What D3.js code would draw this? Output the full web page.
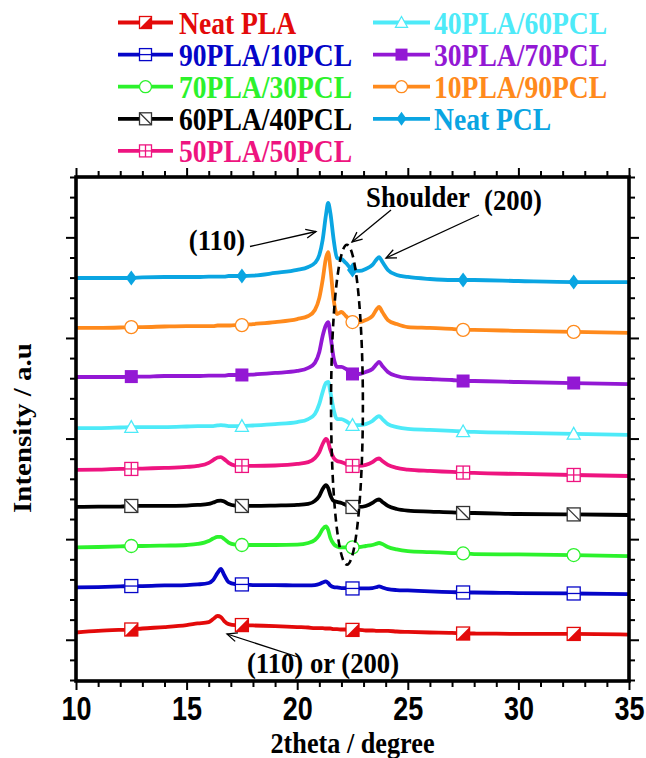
<!DOCTYPE html>
<html><head><meta charset="utf-8">
<script src="https://cdn.jsdelivr.net/npm/d3@7"></script>
<style>html,body{margin:0;padding:0;background:#fff}svg{display:block}</style>
</head><body><svg id="c" width="646" height="758"></svg>
<script>
// ---------- data ----------
const twoTheta = [10,11,12,12.5,13,14,15,15.5,16,16.2,16.4,16.55,16.7,16.9,17.2,17.5,18,19,20,20.5,20.8,21.0,21.15,21.3,21.4,21.5,21.65,21.8,22.0,22.2,22.5,22.8,23.1,23.4,23.6,23.7,23.85,24.1,24.5,25,26,27,27.5,28,30,32.5,35];

const seriesNames = ["Neat PLA","90PLA/10PCL","70PLA/30PCL","60PLA/40PCL","50PLA/50PCL","40PLA/60PCL","30PLA/70PCL","10PLA/90PCL","Neat PCL"];
const seriesColors = ["#e30a0a","#0505c8","#2cf22c","#000000","#ee1480","#4deaf8","#9318d4","#ff8a1c","#0aa5e2"];
const seriesSymbols = ["halfSquare","squareH","circle","squareDiag","squareCross","triangle","squareFill","circle","diamond"];

const neatPLA = [2.36,2.44,2.49,2.51,2.56,2.63,2.73,2.81,2.88,3.03,3.18,3.13,2.93,2.78,2.73,2.73,2.71,2.68,2.63,2.61,2.58,2.58,2.58,2.56,2.56,2.56,2.53,2.53,2.51,2.51,2.49,2.49,2.46,2.46,2.44,2.44,2.44,2.44,2.41,2.39,2.36,2.34,2.31,2.31,2.29,2.29,2.26];
const pla90pcl10 = [4.60,4.62,4.65,4.67,4.67,4.70,4.72,4.75,4.82,4.97,5.32,5.52,5.22,4.87,4.77,4.75,4.72,4.72,4.70,4.70,4.72,4.77,4.85,4.90,4.82,4.70,4.62,4.60,4.57,4.57,4.55,4.55,4.55,4.57,4.62,4.65,4.60,4.52,4.47,4.45,4.40,4.37,4.35,4.35,4.32,4.30,4.27];
const pla70pcl30 = [6.59,6.61,6.64,6.66,6.66,6.68,6.71,6.76,6.91,7.03,7.11,7.11,7.01,6.83,6.73,6.71,6.71,6.71,6.73,6.81,6.96,7.21,7.50,7.63,7.46,7.06,6.76,6.64,6.59,6.59,6.59,6.61,6.66,6.71,6.78,6.81,6.76,6.61,6.49,6.41,6.36,6.31,6.29,6.26,6.24,6.21,6.16];
const pla60pcl40 = [8.60,8.62,8.62,8.65,8.65,8.65,8.67,8.70,8.75,8.82,8.90,8.92,8.87,8.75,8.67,8.65,8.65,8.67,8.70,8.75,8.90,9.15,9.49,9.69,9.54,9.19,8.90,8.85,8.80,8.70,8.60,8.60,8.65,8.80,8.95,8.97,8.85,8.65,8.50,8.42,8.37,8.33,8.30,8.30,8.25,8.23,8.20];
const pla50pcl50 = [10.44,10.46,10.49,10.49,10.51,10.54,10.59,10.64,10.79,10.93,11.06,11.08,10.98,10.79,10.66,10.64,10.64,10.66,10.74,10.83,11.03,11.33,11.73,11.98,11.83,11.43,11.03,10.88,10.83,10.74,10.64,10.64,10.69,10.83,10.98,11.01,10.88,10.69,10.54,10.46,10.39,10.34,10.31,10.29,10.24,10.19,10.14];
const pla40pcl60 = [12.52,12.52,12.55,12.57,12.57,12.57,12.60,12.62,12.62,12.62,12.65,12.67,12.65,12.62,12.62,12.62,12.65,12.72,12.82,12.97,13.22,13.72,14.31,14.76,14.81,14.31,13.42,12.97,12.97,12.87,12.67,12.67,12.72,12.87,13.07,13.12,12.97,12.72,12.57,12.48,12.43,12.38,12.35,12.33,12.28,12.23,12.18];
const pla30pcl70 = [15.06,15.06,15.06,15.08,15.08,15.11,15.11,15.11,15.13,15.13,15.13,15.13,15.13,15.16,15.16,15.16,15.18,15.26,15.36,15.51,15.76,16.30,17.10,17.64,17.79,17.15,16.00,15.56,15.56,15.46,15.21,15.21,15.31,15.46,15.71,15.81,15.61,15.31,15.11,15.01,14.96,14.91,14.86,14.86,14.81,14.76,14.71];
const pla10pcl90 = [17.50,17.50,17.52,17.54,17.54,17.57,17.59,17.59,17.59,17.59,17.62,17.62,17.62,17.62,17.64,17.64,17.69,17.79,17.94,18.09,18.39,18.99,19.88,20.97,21.27,20.48,18.89,18.19,18.29,18.09,17.79,17.79,17.89,18.09,18.44,18.54,18.29,17.89,17.69,17.54,17.50,17.45,17.40,17.40,17.35,17.30,17.25];
const neatPCL = [19.98,19.98,19.98,19.98,20.01,20.03,20.03,20.03,20.05,20.05,20.05,20.05,20.05,20.08,20.08,20.08,20.10,20.23,20.38,20.53,20.73,21.12,21.87,23.11,23.71,23.21,21.87,20.97,20.92,20.73,20.38,20.33,20.43,20.63,20.92,21.02,20.78,20.38,20.13,20.03,19.93,19.88,19.88,19.88,19.83,19.78,19.78];

const seriesValues = [neatPLA,pla90pcl10,pla70pcl30,pla60pcl40,pla50pcl50,pla40pcl60,pla30pcl70,pla10pcl90,neatPCL];
const markerPositions = [12.5,17.5,22.5,27.5,32.5];

const xTicks = [10,15,20,25,30,35];
const xMinorTicks = [11,12,13,14,16,17,18,19,21,22,23,24,26,27,28,29,31,32,33,34];
const yMajorTicks = [2,7,12,17,22];
const yMinorTicks = [0,1,3,4,5,6,8,9,10,11,13,14,15,16,18,19,20,21,23,24,25];

const ellipseCenter = [22.25, 13.68];
const ellipseRadii = [0.72, 7.95];

// ---------- layout ----------
const svg = d3.select("#c");
const L = 76, R = 629, T = 177, B = 681;
const x = d3.scaleLinear().domain([10,35]).range([L,R]);
const y = d3.scaleLinear().domain([0,25]).range([680,177]);
const SERIF = "'Liberation Serif','Times New Roman',serif";
const SANS = "'Liberation Sans',Arial,sans-serif";

function sText(parent, str, px, py, size, family, anchor, sx, fill, rot) {
  return parent.append("text")
    .attr("transform", `translate(${px},${py})` + (rot ? ` rotate(${rot})` : "") + ` scale(${rot ? 1 : sx},${rot ? sx : 1})`)
    .attr("text-anchor", anchor)
    .style("font-family", family).style("font-weight", "bold")
    .style("font-size", size + "px").attr("fill", fill || "#000")
    .text(str);
}

function drawMarker(g, sym, color, s) {
  const h = s / 2;
  if (sym === "halfSquare") {
    g.append("rect").attr("x",-h).attr("y",-h).attr("width",s).attr("height",s).attr("fill","#fff");
    g.append("path").attr("d",`M${h},${-h}L${h},${h}L${-h},${h}Z`).attr("fill",color);
    g.append("rect").attr("x",-h).attr("y",-h).attr("width",s).attr("height",s).attr("fill","none").attr("stroke",color).attr("stroke-width",1.3);
  } else if (sym === "squareH") {
    g.append("rect").attr("x",-h).attr("y",-h).attr("width",s).attr("height",s).attr("fill","#fff").attr("stroke",color).attr("stroke-width",1.3);
    g.append("line").attr("x1",-h).attr("x2",h).attr("y1",0).attr("y2",0).attr("stroke",color).attr("stroke-width",1.3);
  } else if (sym === "circle") {
    g.append("circle").attr("r",h).attr("fill","#fff").attr("stroke",color).attr("stroke-width",1.3);
  } else if (sym === "squareDiag") {
    g.append("rect").attr("x",-h).attr("y",-h).attr("width",s).attr("height",s).attr("fill","#fff").attr("stroke","#333").attr("stroke-width",1.3);
    g.append("line").attr("x1",-h).attr("y1",-h).attr("x2",h).attr("y2",h).attr("stroke","#333").attr("stroke-width",1.3);
  } else if (sym === "squareCross") {
    g.append("rect").attr("x",-h).attr("y",-h).attr("width",s).attr("height",s).attr("fill","#fff").attr("stroke",color).attr("stroke-width",1.3);
    g.append("line").attr("x1",-h).attr("x2",h).attr("y1",0).attr("y2",0).attr("stroke",color).attr("stroke-width",1.3);
    g.append("line").attr("y1",-h).attr("y2",h).attr("x1",0).attr("x2",0).attr("stroke",color).attr("stroke-width",1.3);
  } else if (sym === "triangle") {
    g.append("path").attr("d",`M0,${-h}L${h},${h*0.8}L${-h},${h*0.8}Z`).attr("fill","#fff").attr("stroke",color).attr("stroke-width",1.3);
  } else if (sym === "squareFill") {
    g.append("rect").attr("x",-h).attr("y",-h).attr("width",s).attr("height",s).attr("fill",color);
  } else if (sym === "diamond") {
    g.append("path").attr("d",`M0,${-h-1}L${h-1},0L0,${h+1}L${-h+1},0Z`).attr("fill",color);
  }
}

// ---------- series ----------
const line = d3.line().x((d,i) => x(twoTheta[i])).y(d => y(d)).curve(d3.curveMonotoneX);
const plot = svg.append("g");
seriesValues.forEach((vals, k) => {
  plot.append("path").attr("d", line(vals)).attr("fill","none")
    .attr("stroke", seriesColors[k]).attr("stroke-width", 3.8).attr("stroke-linejoin","round");
});
seriesValues.forEach((vals, k) => {
  markerPositions.forEach(m => {
    const i = twoTheta.indexOf(m);
    const g = plot.append("g").attr("transform", `translate(${x(m)},${y(vals[i])})`);
    drawMarker(g, seriesSymbols[k], seriesColors[k], 13);
  });
});

// ---------- dashed ellipse ----------
svg.append("ellipse")
  .attr("cx", x(ellipseCenter[0])).attr("cy", y(ellipseCenter[1]))
  .attr("rx", x(ellipseCenter[0] + ellipseRadii[0]) - x(ellipseCenter[0]))
  .attr("ry", y(ellipseCenter[1] - ellipseRadii[1]) - y(ellipseCenter[1]))
  .attr("fill","none").attr("stroke","#000").attr("stroke-width",2.6).attr("stroke-dasharray","8,5");

// ---------- axes ----------
function styleAxis(g) {
  g.select(".domain").remove();
  g.selectAll(".tick line").attr("stroke","#000").attr("stroke-width",2);
}
svg.append("g").attr("transform",`translate(0,${B})`).call(d3.axisBottom(x).tickValues(xMinorTicks).tickSize(6).tickFormat("")).call(styleAxis);
const xb = svg.append("g").attr("transform",`translate(0,${B})`).call(d3.axisBottom(x).tickValues(xTicks).tickSize(9).tickPadding(4)).call(styleAxis);
xb.selectAll(".tick text").attr("y", null).attr("dy", null)
  .attr("transform","translate(0,39) scale(0.9,1.08)")
  .style("font-family", SANS).style("font-weight","bold").style("font-size","30px").attr("fill","#000");
svg.append("g").attr("transform",`translate(0,${T})`).call(d3.axisTop(x).tickValues(xMinorTicks).tickSize(6).tickFormat("")).call(styleAxis);
svg.append("g").attr("transform",`translate(0,${T})`).call(d3.axisTop(x).tickValues(xTicks).tickSize(9).tickFormat("")).call(styleAxis);
svg.append("g").attr("transform",`translate(${L},0)`).call(d3.axisLeft(y).tickValues(yMinorTicks).tickSize(6).tickFormat("")).call(styleAxis);
svg.append("g").attr("transform",`translate(${L},0)`).call(d3.axisLeft(y).tickValues(yMajorTicks).tickSize(10).tickFormat("")).call(styleAxis);
svg.append("g").attr("transform",`translate(${R},0)`).call(d3.axisRight(y).tickValues(yMinorTicks).tickSize(6).tickFormat("")).call(styleAxis);
svg.append("g").attr("transform",`translate(${R},0)`).call(d3.axisRight(y).tickValues(yMajorTicks).tickSize(10).tickFormat("")).call(styleAxis);

svg.append("rect").attr("x",L).attr("y",T).attr("width",R-L).attr("height",B-T)
  .attr("fill","none").attr("stroke","#000").attr("stroke-width",3.6);

// axis titles
sText(svg, "2theta / degree", (L+R)/2, 753, 28.5, SERIF, "middle", 0.92);
sText(svg, "Intensity / a.u", 31, 428, 29, SERIF, "middle", 0.89, "#000", -90);

// ---------- annotations ----------
function arrow(x1, y1, x2, y2) {
  const g = svg.append("g").attr("stroke","#000").attr("stroke-width",1.3).attr("fill","none");
  g.append("line").attr("x1",x1).attr("y1",y1).attr("x2",x2).attr("y2",y2);
  const a = Math.atan2(y2-y1, x2-x1), len = 11, sp = 0.42;
  g.append("path").attr("d",
    `M${x2 - len*Math.cos(a-sp)},${y2 - len*Math.sin(a-sp)}L${x2},${y2}L${x2 - len*Math.cos(a+sp)},${y2 - len*Math.sin(a+sp)}`);
}
sText(svg, "Shoulder", 418, 207, 30, SERIF, "middle", 0.89);
sText(svg, "(200)", 513, 210, 30, SERIF, "middle", 0.89);
sText(svg, "(110)", 217, 250, 30, SERIF, "middle", 0.89);
sText(svg, "(110) or (200)", 323, 673, 30, SERIF, "middle", 0.89);
arrow(250, 246.5, 316, 231.5);
arrow(391, 210, 352, 242);
arrow(479, 215, 386, 258);
arrow(298, 657, 227, 634);

// ---------- legend ----------
const leg = svg.append("g");
seriesNames.forEach((name, k) => {
  const col = k < 5 ? 0 : 1, row = k < 5 ? k : k - 5;
  const lx1 = col ? 373 : 118, lx2 = col ? 430 : 173, tx = col ? 434 : 179;
  const ry = 22.5 + row * 32.1;
  leg.append("line").attr("x1",lx1).attr("x2",lx2).attr("y1",ry).attr("y2",ry)
    .attr("stroke",seriesColors[k]).attr("stroke-width",3.8);
  drawMarker(leg.append("g").attr("transform",`translate(${(lx1+lx2)/2},${ry})`), seriesSymbols[k], seriesColors[k], 12);
  sText(leg, name, tx, ry + 11.5, 31, SERIF, "start", 0.89, seriesColors[k]);
});
</script></body></html>
